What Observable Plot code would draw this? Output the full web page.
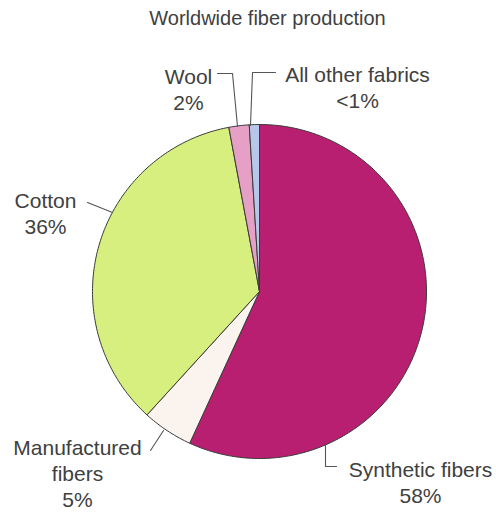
<!DOCTYPE html>
<html>
<head>
<meta charset="utf-8">
<script src="https://cdn.jsdelivr.net/npm/d3@7"></script>
<script src="https://cdn.jsdelivr.net/npm/@observablehq/plot@0.6"></script>
<style>
  html, body { margin: 0; padding: 0; background: #fff; }
</style>
</head>
<body>
<div id="chart"></div>
<script>
// ---- data ----
const title = "Worldwide fiber production";
const categories = ["Synthetic fibers", "Manufactured fibers", "Cotton", "Wool", "All other fabrics"];
const values = [58, 5, 36, 2, 1];
const pctLabels = ["58%", "5%", "36%", "2%", "<1%"];
const labelNames = ["Synthetic fibers", "Manufactured\nfibers", "Cotton", "Wool", "All other fabrics"];

// ---- styles ----
const colors = ["#b81f70", "#fbf3ee", "#d6ef7e", "#e6a0c6", "#b7c7ea"];
const W = 496, H = 512;
const CX = 259, CY = 291, R = 167; // pie placement in pixels
const toU = px => (px - CX) / R;
const toV = py => (CY - py) / R;

// slices built from the values (clockwise from 12 o'clock)
const total = d3.sum(values);
let acc = 0;
const slices = categories.map((c, i) => {
  const a0 = acc / total * 2 * Math.PI;
  acc += values[i];
  const a1 = acc / total * 2 * Math.PI;
  const n = Math.max(2, Math.ceil((a1 - a0) / (Math.PI / 180)));
  const pts = [{x: 0, y: 0}];
  for (let k = 0; k <= n; k++) {
    const a = a0 + (a1 - a0) * k / n;
    pts.push({x: Math.sin(a), y: Math.cos(a)});
  }
  pts.push({x: 0, y: 0});
  return {category: c, pts, color: colors[i]};
});

// annotation layout (pixel positions -> pie units)
const P = (px, py) => ({x: toU(px), y: toV(py)});
const labelPos = [P(420, 481), P(77, 472), P(45, 212), P(188, 88), P(357, 86.5)];
const leaders = [
  [P(325, 440), P(325, 466), P(336, 466)],
  [P(150, 450), P(163, 430)],
  [P(87, 202), P(112, 212)],
  [P(217, 73), P(232, 73), P(237, 126)],
  [P(275, 72), P(252, 72), P(250, 125)]
];
const labelData = categories.map((c, i) => ({
  text: labelNames[i] + "\n" + pctLabels[i],
  x: labelPos[i].x, y: labelPos[i].y
}));

const font = "'Liberation Sans', Arial, Helvetica, sans-serif";

const chart = Plot.plot({
  width: W,
  height: H,
  margin: 0,
  x: {domain: [toU(0), toU(W)], axis: null},
  y: {domain: [toV(H), toV(0)], axis: null},
  style: {fontFamily: font, background: "#fff"},
  marks: [
    ...slices.map(s => Plot.line(s.pts, {x: "x", y: "y", fill: s.color, stroke: "#3a3a3a", strokeWidth: 1, strokeLinejoin: "round"})),
    ...leaders.map(l => Plot.line(l, {x: "x", y: "y", stroke: "#555", strokeWidth: 1.1})),
    Plot.text(labelData, {x: "x", y: "y", text: "text", fontSize: 21, lineHeight: 1.24, fill: "#404040", textAnchor: "middle", lineAnchor: "middle"}),
    Plot.text([title], {x: toU(267), y: toV(18), text: d => d, fontSize: 20, fill: "#404040", textAnchor: "middle", lineAnchor: "middle"})
  ]
});
document.getElementById("chart").appendChild(chart);
</script>
</body>
</html>
